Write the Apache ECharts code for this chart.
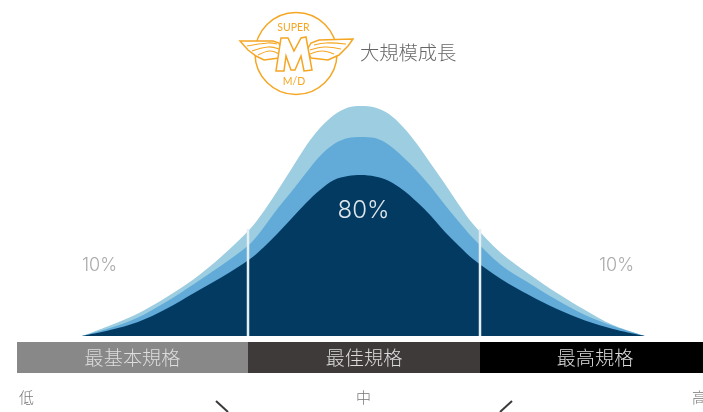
<!DOCTYPE html>
<html><head><meta charset="utf-8">
<style>html,body{margin:0;padding:0;background:#fff;overflow:hidden}#c{width:703px;height:412px}</style>
<script src="https://cdn.jsdelivr.net/npm/echarts@6/dist/echarts.min.js"></script></head>
<body><div id="c"></div>
<script>
const positions = [82,110,138,166,194,222,250,264,278,292,306,320,334,348,361,375,389,403,417,431,445,459,473,501,529,557,585,613,645];
const outerSeries = [0,10.5,22.5,38.5,57,80,107,125,146,168,190,208,221,228.5,230,228.5,222,209,192,172,152,131,112,83,62,43,26,11,0];
const middleSeries = [0,8,18.5,34,52,71,92,109,128,145,163,180,192,198,199,198,191,179,165,149,131,114,98,71,53,36,21,10,0];
const innerSeries = [0,6,14,27,43,59,77,89,103,118,133,146,156,160,161,159.5,155,146,134,120,104,90,77,57,41,27,15.5,7,0];
const dividers = [248,480];
const dividerHeight = 107;
const bandNames = ['最基本規格','最佳規格','最高規格'];
const bandSpans = [231,232,223];
const bandStart = 17;
const scaleLabels = ['低','中','高'];
const title = '大規模成長';
const chart = echarts.init(document.getElementById('c'),null,{renderer:'canvas'});
const pair = ys => positions.map((x,i)=>[x,ys[i]]);
const area = (name,ys,color)=>({name,type:'line',xAxisIndex:0,yAxisIndex:0,data:pair(ys),smooth:0.33,symbol:'none',silent:true,
  lineStyle:{width:0},areaStyle:{color,opacity:1}});
const orange='#f5a623';
const wingL=[[240,41],[273,41],[279,43],[281,50],[279,58],[264,60],[256,56],[248,50]];
const wingR=[[353,39],[319,40],[311,43],[307,50],[311,58],[328,60],[339,55],[348,46]];
const mark=[[281,38],[288,38],[294,51],[301,38],[306,37],[312,70],[304,71],[301,56],[295,70],[291,70],[286,56],[284,71],[276,71]];
const feathers=[
 [[247,46],[268,43],[277,44]],[[252,51],[268,47],[279,49]],[[258,55],[270,51],[279,54]],
 [[346,44],[326,43],[314,45]],[[341,49],[325,47],[310,50]],[[334,54],[322,51],[310,54]]];
const logo=[
 {type:'circle',shape:{cx:296,cy:53.5,r:41},style:{stroke:orange,lineWidth:1.5,fill:'#fff'}},
 {type:'polygon',shape:{points:wingL},style:{stroke:orange,lineWidth:1.5,fill:'#fff'}},
 {type:'polygon',shape:{points:wingR},style:{stroke:orange,lineWidth:1.5,fill:'#fff'}},
 ...feathers.map(p=>({type:'polyline',shape:{points:p,smooth:0.4},style:{stroke:orange,lineWidth:1.2,fill:null}})),
 {type:'polygon',shape:{points:mark},style:{stroke:orange,lineWidth:1.5,fill:'#fff'}},
 {type:'text',x:293.5,y:28,style:{text:'SUPER',fontFamily:'Lato',fontSize:10.5,fill:orange,align:'center',verticalAlign:'middle'}},
 {type:'text',x:294,y:82,style:{text:'M/D',fontFamily:'Lato',fontSize:10.5,fill:orange,align:'center',verticalAlign:'middle'}}
];
const txt=(s,x,y,size,fill,align,font,weight)=>({type:'text',x,y,z:20,style:{text:s,fontFamily:font||'"Noto Sans CJK TC"',fontSize:size,fontWeight:weight||300,fill,align:align||'left',verticalAlign:'middle'}});
chart.setOption({
 animation:false,
 grid:[{left:0,right:0,top:0,height:336},{left:bandStart,right:0,top:342,height:31}],
 xAxis:[{type:'value',gridIndex:0,min:0,max:703,show:false},
        {type:'value',gridIndex:1,min:0,max:686,show:false}],
 yAxis:[{type:'value',gridIndex:0,min:0,max:336,show:false},
        {type:'category',gridIndex:1,data:['band'],show:false}],
 series:[
  area('outer',outerSeries,'#9ccde0'),
  area('middle',middleSeries,'#62abd9'),
  area('inner',innerSeries,'#023a62'),
  ...dividers.map(x=>({type:'line',xAxisIndex:0,yAxisIndex:0,data:[[x,0],[x,dividerHeight]],symbol:'none',silent:true,z:5,lineStyle:{color:'#e6eff4',width:2.5}})),
  ...bandNames.map((n,i)=>({type:'bar',name:n,stack:'b',xAxisIndex:1,yAxisIndex:1,barWidth:31,silent:true,data:[bandSpans[i]],
    itemStyle:{color:['#888888','#3e3a39','#000000'][i]},
    label:{show:true,position:'inside',offset:[i===2?3.5:0,0],formatter:n,color:'#dddddd',fontSize:19.2,fontFamily:'"Noto Sans CJK TC"',fontWeight:300}}))
 ],
 graphic:[
  ...logo,
  txt(title,360,53,19.3,'#666666'),
  txt('80%',363.5,210.5,24,'#dfe6ea','center','Inter'),
  txt('10%',99.5,266,18,'#ababab','center','Inter'),
  txt('10%',616.5,266,18,'#ababab','center','Inter'),
  txt(scaleLabels[0],19,397,15,'#777777'),
  txt(scaleLabels[1],356,397,15,'#777777'),
  txt(scaleLabels[2],692,397,15,'#777777'),
  {type:'line',shape:{x1:216,y1:401,x2:228,y2:412},style:{stroke:'#3a3a3a',lineWidth:2}},
  {type:'line',shape:{x1:512,y1:401,x2:500,y2:412},style:{stroke:'#3a3a3a',lineWidth:2}}
 ]
});
</script></body></html>
